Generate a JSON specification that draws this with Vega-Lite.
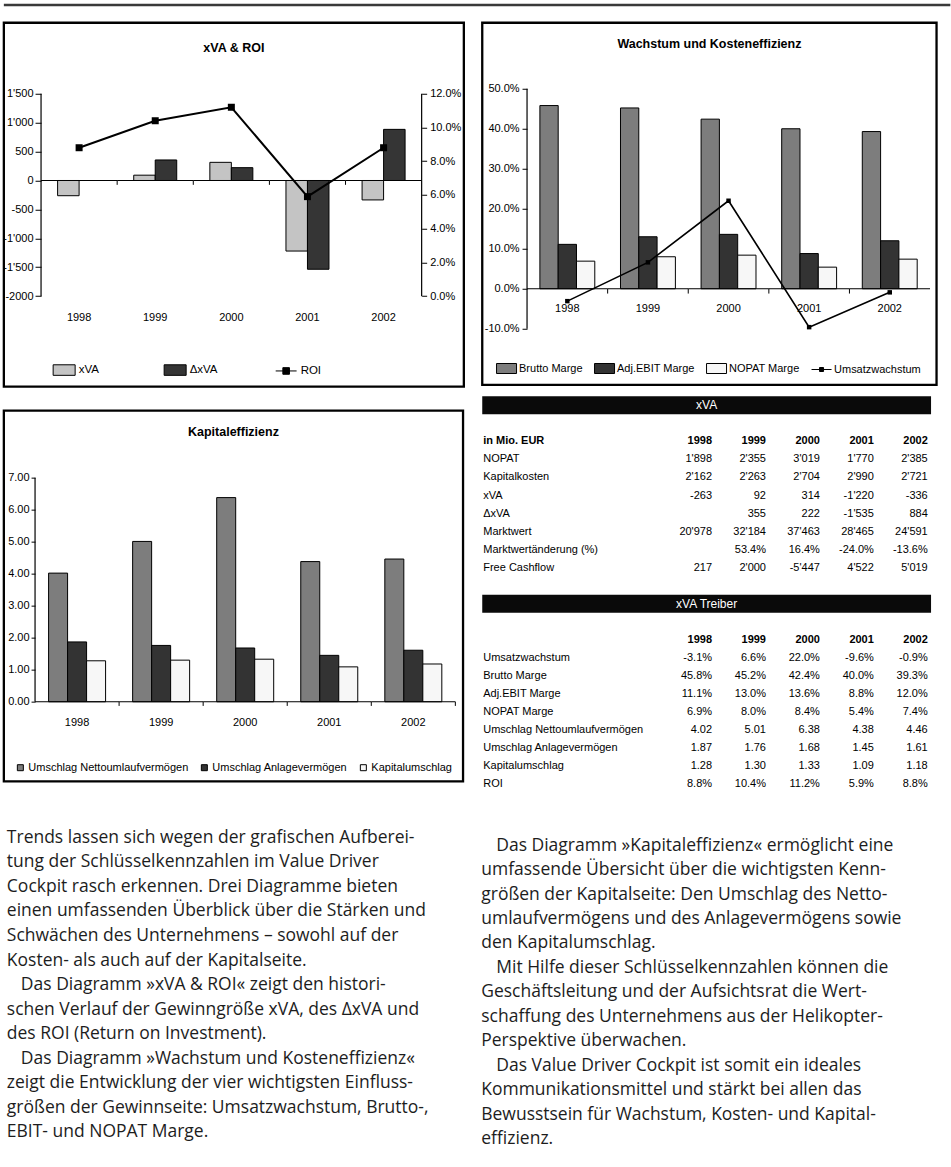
{
  "$schema": "https://vega.github.io/schema/vega-lite/v6.json",
  "background": "white",
  "padding": {"left": 0.85, "top": 3, "right": 0, "bottom": 0},
  "autosize": {"type": "pad"},
  "spacing": 13.75,
  "resolve": {"scale": {"color": "independent", "shape": "independent", "xOffset": "independent"}, "legend": {"color": "independent", "shape": "independent"}},
  "config": {
    "font": "Liberation Sans",
    "view": {"stroke": null},
    "axis": {"labelFont": "Liberation Sans", "labelFontSize": 11, "labelColor": "black", "tickColor": "black", "tickWidth": 1, "grid": false, "labelFlush": false, "labelOverlap": false, "domainColor": "black"},
    "title": {"font": "Liberation Sans", "fontSize": 12.5, "fontWeight": "bold", "color": "black"},
    "legend": {"labelFont": "Liberation Sans", "labelColor": "black", "labelLimit": 400},
    "text": {"font": "Liberation Sans", "fontSize": 11, "color": "black"},
    "locale": {"number": {"decimal": ".", "thousands": "'", "grouping": [3], "currency": ["", ""], "minus": "-"}}
  },
  "datasets": {
    "c1bars": [
      {"year": "1998", "series": "xVA", "value": -263},
      {"year": "1999", "series": "xVA", "value": 92},
      {"year": "2000", "series": "xVA", "value": 314},
      {"year": "2001", "series": "xVA", "value": -1220},
      {"year": "2002", "series": "xVA", "value": -336},
      {"year": "1999", "series": "ΔxVA", "value": 355},
      {"year": "2000", "series": "ΔxVA", "value": 222},
      {"year": "2001", "series": "ΔxVA", "value": -1535},
      {"year": "2002", "series": "ΔxVA", "value": 884}
    ],
    "c1roi": [
      {"year": "1998", "roi": 0.088},
      {"year": "1999", "roi": 0.104},
      {"year": "2000", "roi": 0.112},
      {"year": "2001", "roi": 0.059},
      {"year": "2002", "roi": 0.088}
    ],
    "c1leg": [{"s": "xVA"}, {"s": "ΔxVA"}, {"s": "ROI"}],
    "c2bars": [
      {"year": "1998", "series": "Brutto Marge", "value": 0.458},
      {"year": "1998", "series": "Adj.EBIT Marge", "value": 0.111},
      {"year": "1998", "series": "NOPAT Marge", "value": 0.069},
      {"year": "1999", "series": "Brutto Marge", "value": 0.452},
      {"year": "1999", "series": "Adj.EBIT Marge", "value": 0.130},
      {"year": "1999", "series": "NOPAT Marge", "value": 0.080},
      {"year": "2000", "series": "Brutto Marge", "value": 0.424},
      {"year": "2000", "series": "Adj.EBIT Marge", "value": 0.136},
      {"year": "2000", "series": "NOPAT Marge", "value": 0.084},
      {"year": "2001", "series": "Brutto Marge", "value": 0.400},
      {"year": "2001", "series": "Adj.EBIT Marge", "value": 0.088},
      {"year": "2001", "series": "NOPAT Marge", "value": 0.054},
      {"year": "2002", "series": "Brutto Marge", "value": 0.393},
      {"year": "2002", "series": "Adj.EBIT Marge", "value": 0.120},
      {"year": "2002", "series": "NOPAT Marge", "value": 0.074}
    ],
    "c2line": [
      {"year": "1998", "g": -0.031},
      {"year": "1999", "g": 0.066},
      {"year": "2000", "g": 0.220},
      {"year": "2001", "g": -0.096},
      {"year": "2002", "g": -0.009}
    ],
    "c2leg": [{"s": "Brutto Marge"}, {"s": "Adj.EBIT Marge"}, {"s": "NOPAT Marge"}, {"s": "Umsatzwachstum"}],
    "c3bars": [
      {"year": "1998", "series": "Umschlag Nettoumlaufvermögen", "value": 4.02},
      {"year": "1998", "series": "Umschlag Anlagevermögen", "value": 1.87},
      {"year": "1998", "series": "Kapitalumschlag", "value": 1.28},
      {"year": "1999", "series": "Umschlag Nettoumlaufvermögen", "value": 5.01},
      {"year": "1999", "series": "Umschlag Anlagevermögen", "value": 1.76},
      {"year": "1999", "series": "Kapitalumschlag", "value": 1.30},
      {"year": "2000", "series": "Umschlag Nettoumlaufvermögen", "value": 6.38},
      {"year": "2000", "series": "Umschlag Anlagevermögen", "value": 1.68},
      {"year": "2000", "series": "Kapitalumschlag", "value": 1.33},
      {"year": "2001", "series": "Umschlag Nettoumlaufvermögen", "value": 4.38},
      {"year": "2001", "series": "Umschlag Anlagevermögen", "value": 1.45},
      {"year": "2001", "series": "Kapitalumschlag", "value": 1.09},
      {"year": "2002", "series": "Umschlag Nettoumlaufvermögen", "value": 4.46},
      {"year": "2002", "series": "Umschlag Anlagevermögen", "value": 1.61},
      {"year": "2002", "series": "Kapitalumschlag", "value": 1.18}
    ],
    "hdr": [{"row": -2, "t": "xVA"}, {"row": 9, "t": "xVA Treiber"}],
    "tables": [
      {"row": 0, "label": "in Mio. EUR", "h": true, "1998": "1998", "1999": "1999", "2000": "2000", "2001": "2001", "2002": "2002"},
      {"row": 1, "label": "NOPAT", "h": false, "1998": "1'898", "1999": "2'355", "2000": "3'019", "2001": "1'770", "2002": "2'385"},
      {"row": 2, "label": "Kapitalkosten", "h": false, "1998": "2'162", "1999": "2'263", "2000": "2'704", "2001": "2'990", "2002": "2'721"},
      {"row": 3, "label": "xVA", "h": false, "1998": "-263", "1999": "92", "2000": "314", "2001": "-1'220", "2002": "-336"},
      {"row": 4, "label": "ΔxVA", "h": false, "1999": "355", "2000": "222", "2001": "-1'535", "2002": "884"},
      {"row": 5, "label": "Marktwert", "h": false, "1998": "20'978", "1999": "32'184", "2000": "37'463", "2001": "28'465", "2002": "24'591"},
      {"row": 6, "label": "Marktwertänderung (%)", "h": false, "1999": "53.4%", "2000": "16.4%", "2001": "-24.0%", "2002": "-13.6%"},
      {"row": 7, "label": "Free Cashflow", "h": false, "1998": "217", "1999": "2'000", "2000": "-5'447", "2001": "4'522", "2002": "5'019"},
      {"row": 11, "label": "", "h": true, "1998": "1998", "1999": "1999", "2000": "2000", "2001": "2001", "2002": "2002"},
      {"row": 12, "label": "Umsatzwachstum", "h": false, "1998": "-3.1%", "1999": "6.6%", "2000": "22.0%", "2001": "-9.6%", "2002": "-0.9%"},
      {"row": 13, "label": "Brutto Marge", "h": false, "1998": "45.8%", "1999": "45.2%", "2000": "42.4%", "2001": "40.0%", "2002": "39.3%"},
      {"row": 14, "label": "Adj.EBIT Marge", "h": false, "1998": "11.1%", "1999": "13.0%", "2000": "13.6%", "2001": "8.8%", "2002": "12.0%"},
      {"row": 15, "label": "NOPAT Marge", "h": false, "1998": "6.9%", "1999": "8.0%", "2000": "8.4%", "2001": "5.4%", "2002": "7.4%"},
      {"row": 16, "label": "Umschlag Nettoumlaufvermögen", "h": false, "1998": "4.02", "1999": "5.01", "2000": "6.38", "2001": "4.38", "2002": "4.46"},
      {"row": 17, "label": "Umschlag Anlagevermögen", "h": false, "1998": "1.87", "1999": "1.76", "2000": "1.68", "2001": "1.45", "2002": "1.61"},
      {"row": 18, "label": "Kapitalumschlag", "h": false, "1998": "1.28", "1999": "1.30", "2000": "1.33", "2001": "1.09", "2002": "1.18"},
      {"row": 19, "label": "ROI", "h": false, "1998": "8.8%", "1999": "10.4%", "2000": "11.2%", "2001": "5.9%", "2002": "8.8%"}
    ],
    "txtL": [
      {"line": 0, "p": false, "t": "Trends lassen sich wegen der grafischen Aufberei-"},
      {"line": 1, "p": false, "t": "tung der Schlüsselkennzahlen im Value Driver"},
      {"line": 2, "p": false, "t": "Cockpit rasch erkennen. Drei Diagramme bieten"},
      {"line": 3, "p": false, "t": "einen umfassenden Überblick über die Stärken und"},
      {"line": 4, "p": false, "t": "Schwächen des Unternehmens – sowohl auf der"},
      {"line": 5, "p": false, "t": "Kosten- als auch auf der Kapitalseite."},
      {"line": 6, "p": true, "t": "Das Diagramm »xVA & ROI« zeigt den histori-"},
      {"line": 7, "p": false, "t": "schen Verlauf der Gewinngröße xVA, des ΔxVA und"},
      {"line": 8, "p": false, "t": "des ROI (Return on Investment)."},
      {"line": 9, "p": true, "t": "Das Diagramm »Wachstum und Kosteneffizienz«"},
      {"line": 10, "p": false, "t": "zeigt die Entwicklung der vier wichtigsten Einfluss-"},
      {"line": 11, "p": false, "t": "größen der Gewinnseite: Umsatzwachstum, Brutto-,"},
      {"line": 12, "p": false, "t": "EBIT- und NOPAT Marge."}
    ],
    "txtR": [
      {"line": 0, "p": true, "t": "Das Diagramm »Kapitaleffizienz« ermöglicht eine"},
      {"line": 1, "p": false, "t": "umfassende Übersicht über die wichtigsten Kenn-"},
      {"line": 2, "p": false, "t": "größen der Kapitalseite: Den Umschlag des Netto-"},
      {"line": 3, "p": false, "t": "umlaufvermögens und des Anlagevermögens sowie"},
      {"line": 4, "p": false, "t": "den Kapitalumschlag."},
      {"line": 5, "p": true, "t": "Mit Hilfe dieser Schlüsselkennzahlen können die"},
      {"line": 6, "p": false, "t": "Geschäftsleitung und der Aufsichtsrat die Wert-"},
      {"line": 7, "p": false, "t": "schaffung des Unternehmens aus der Helikopter-"},
      {"line": 8, "p": false, "t": "Perspektive überwachen."},
      {"line": 9, "p": true, "t": "Das Value Driver Cockpit ist somit ein ideales"},
      {"line": 10, "p": false, "t": "Kommunikationsmittel und stärkt bei allen das"},
      {"line": 11, "p": false, "t": "Bewusstsein für Wachstum, Kosten- und Kapital-"},
      {"line": 12, "p": false, "t": "effizienz."}
    ]
  },
  "vconcat": [
    {
      "width": 946.5, "height": 1,
      "data": {"values": [{"k": 0}]},
      "mark": {"type": "rule", "color": "#3a3a3a", "strokeWidth": 2.4},
      "encoding": {"y": {"datum": 1, "type": "quantitative", "scale": {"domain": [0, 1]}, "axis": null}}
    },
    {
      "spacing": 14.4,
      "resolve": {"scale": {"color": "independent", "shape": "independent", "xOffset": "independent"}, "legend": {"color": "independent", "shape": "independent"}},
      "hconcat": [
        {
          "spacing": 19.9,
          "resolve": {"scale": {"color": "independent", "shape": "independent", "xOffset": "independent"}, "legend": {"color": "independent", "shape": "independent"}},
          "vconcat": [
            {
              "width": 460, "height": 363.9,
              "view": {"stroke": "black", "strokeWidth": 2.3},
              "title": {"text": "xVA & ROI", "offset": -42, "baseline": "alphabetic", "frame": "group", "anchor": "middle"},
              "resolve": {"scale": {"y": "independent"}},
              "layer": [
                {
                  "layer": [
                    {
                      "data": {"name": "c1leg"},
                      "mark": {"type": "point", "filled": true, "opacity": 0},
                      "encoding": {
                        "color": {"field": "s", "type": "nominal", "scale": {"domain": ["xVA", "ΔxVA", "ROI"], "range": ["#c4c4c4", "#353535", "#000000"]},
                          "legend": {"orient": "none", "legendX": 48.8, "legendY": 335.7, "direction": "horizontal", "title": null, "gridAlign": "all", "symbolSize": 484, "symbolStrokeColor": "black", "symbolStrokeWidth": 1, "symbolOpacity": 1, "labelFont": "Liberation Sans", "labelFontSize": 11.5, "labelOffset": 3, "columnPadding": 55}},
                        "shape": {"field": "s", "type": "nominal", "scale": {"domain": ["xVA", "ΔxVA", "ROI"], "range": ["M-1,-0.48H1V0.48H-1Z", "M-1,-0.48H1V0.48H-1Z", "M-0.95,0H0.95M-0.3,-0.3H0.3V0.3H-0.3Z"]},
                          "legend": {"orient": "none", "legendX": 48.8, "legendY": 335.7, "direction": "horizontal", "title": null, "gridAlign": "all", "symbolSize": 484, "symbolStrokeColor": "black", "symbolStrokeWidth": 1, "symbolOpacity": 1, "labelFont": "Liberation Sans", "labelFontSize": 11.5, "labelOffset": 3, "columnPadding": 55}}
                      }
                    },
                    {
                      "data": {"name": "c1bars"},
                      "mark": {"type": "bar", "stroke": "black", "strokeWidth": 1},
                      "encoding": {
                        "x": {"field": "year", "type": "nominal", "scale": {"type": "band", "paddingInner": 0, "paddingOuter": 0.5215, "align": 0.4685},
                          "axis": {"orient": "bottom", "offset": -68.9, "ticks": false, "tickSize": 0, "domain": false, "labelPadding": 0, "labelBaseline": "middle", "labelAngle": 0, "title": null}},
                        "xOffset": {"field": "series", "type": "nominal", "scale": {"type": "band", "domain": ["xVA", "ΔxVA"], "paddingInner": 0, "paddingOuter": 0.77}},
                        "y": {"field": "value", "type": "quantitative", "scale": {"domain": [-3564.9, 2727.7], "nice": false, "zero": false},
                          "axis": {"orient": "left", "offset": -37.2, "values": [-2000, -1500, -1000, -500, 0, 500, 1000, 1500], "format": ",d", "labelExpr": "datum.value == -2000 ? '-2000' : datum.label", "tickSize": 6, "labelPadding": 2, "domain": false, "grid": false, "title": null}},
                        "color": {"field": "series", "type": "nominal"}
                      }
                    },
                    {
                      "data": {"name": "c1roi"},
                      "mark": {"type": "rect", "fill": "transparent", "stroke": "black", "strokeWidth": 1.2},
                      "encoding": {
                        "x": {"field": "year", "type": "nominal"},
                        "y": {"datum": 0, "type": "quantitative"},
                        "y2": {"datum": 0}
                      }
                    },
                    {
                      "data": {"name": "c1roi"},
                      "transform": [{"filter": "datum.year == '1998'"}],
                      "mark": {"type": "rule", "color": "black", "strokeWidth": 1.2},
                      "encoding": {
                        "x": {"field": "year", "type": "nominal", "bandPosition": 0},
                        "y": {"datum": 1500, "type": "quantitative"},
                        "y2": {"datum": -2000}
                      }
                    },
                    {
                      "data": {"name": "c1roi"},
                      "transform": [{"filter": "datum.year == '2002'"}],
                      "mark": {"type": "rule", "color": "black", "strokeWidth": 1.2},
                      "encoding": {
                        "x": {"field": "year", "type": "nominal", "bandPosition": 1},
                        "y": {"datum": 1500, "type": "quantitative"},
                        "y2": {"datum": -2000}
                      }
                    },
                    {
                      "data": {"name": "c1roi"},
                      "transform": [{"filter": "datum.year != '1998'"}],
                      "mark": {"type": "rule", "color": "black", "strokeWidth": 1},
                      "encoding": {
                        "x": {"field": "year", "type": "nominal", "bandPosition": 0},
                        "y": {"datum": 0, "type": "quantitative"},
                        "y2": {"datum": -75}
                      }
                    }
                  ]
                },
                {
                  "layer": [
                    {
                      "data": {"name": "c1roi"},
                      "mark": {"type": "line", "color": "black", "strokeWidth": 2},
                      "encoding": {
                        "x": {"field": "year", "type": "nominal"},
                        "y": {"field": "roi", "type": "quantitative", "scale": {"domain": [-0.05366, 0.1621], "nice": false, "zero": false},
                          "axis": {"orient": "right", "offset": -42.2, "values": [0, 0.02, 0.04, 0.06, 0.08, 0.1, 0.12], "format": ".1%", "tickSize": 5, "labelPadding": 3, "domain": false, "grid": false, "title": null}}
                      }
                    },
                    {
                      "data": {"name": "c1roi"},
                      "mark": {"type": "point", "shape": "square", "filled": true, "color": "black", "size": 49, "opacity": 1},
                      "encoding": {
                        "x": {"field": "year", "type": "nominal"},
                        "y": {"field": "roi", "type": "quantitative"}
                      }
                    }
                  ]
                }
              ]
            },
            {
              "width": 459.2, "height": 370.8,
              "view": {"stroke": "black", "strokeWidth": 2.3},
              "title": {"text": "Kapitaleffizienz", "offset": -38, "baseline": "alphabetic", "frame": "group", "anchor": "middle"},
              "layer": [
                {
                  "data": {"name": "c3bars"},
                  "mark": {"type": "bar", "stroke": "black", "strokeWidth": 1},
                  "encoding": {
                    "x": {"field": "year", "type": "nominal", "scale": {"type": "band", "paddingInner": 0, "paddingOuter": 0.2314, "align": 0.802},
                      "axis": {"orient": "bottom", "offset": -58.5, "ticks": false, "tickSize": 0, "domain": false, "labelPadding": 0, "labelBaseline": "middle", "labelAngle": 0, "title": null}},
                    "xOffset": {"field": "series", "type": "nominal", "scale": {"type": "band", "domain": ["Umschlag Nettoumlaufvermögen", "Umschlag Anlagevermögen", "Kapitalumschlag"], "paddingInner": 0, "paddingOuter": 0.712}},
                    "y": {"field": "value", "type": "quantitative", "scale": {"domain": [-2.4906, 9.097], "nice": false, "zero": false},
                      "axis": {"orient": "left", "offset": -31.2, "values": [0, 1, 2, 3, 4, 5, 6, 7], "format": ".2f", "tickSize": 4, "labelPadding": 2, "domain": false, "grid": false, "title": null}},
                    "color": {"field": "series", "type": "nominal",
                      "scale": {"domain": ["Umschlag Nettoumlaufvermögen", "Umschlag Anlagevermögen", "Kapitalumschlag"], "range": ["#7d7d7d", "#333333", "#f7f7f7"]},
                      "legend": {"orient": "none", "legendX": 11, "legendY": 351.3, "direction": "horizontal", "title": null, "symbolType": "square", "symbolSize": 36, "symbolStrokeColor": "black", "symbolStrokeWidth": 1, "symbolOpacity": 1, "labelFont": "Liberation Sans", "labelFontSize": 11, "labelOffset": 2.5, "columnPadding": 10}}
                  }
                },
                {
                  "data": {"name": "c1roi"},
                  "mark": {"type": "rect", "fill": "transparent", "stroke": "black", "strokeWidth": 1.2},
                  "encoding": {
                    "x": {"field": "year", "type": "nominal"},
                    "y": {"datum": 0, "type": "quantitative"},
                    "y2": {"datum": 0}
                  }
                },
                {
                  "data": {"name": "c1roi"},
                  "transform": [{"filter": "datum.year == '1998'"}],
                  "mark": {"type": "rule", "color": "black", "strokeWidth": 1.2},
                  "encoding": {
                    "x": {"field": "year", "type": "nominal", "bandPosition": 0},
                    "y": {"datum": 7, "type": "quantitative"},
                    "y2": {"datum": 0}
                  }
                },
                {
                  "data": {"name": "c1roi"},
                  "transform": [{"filter": "datum.year != '1998'"}],
                  "mark": {"type": "rule", "color": "black", "strokeWidth": 1},
                  "encoding": {
                    "x": {"field": "year", "type": "nominal", "bandPosition": 0},
                    "y": {"datum": 0, "type": "quantitative"},
                    "y2": {"datum": -0.13}
                  }
                },
                {
                  "data": {"name": "c1roi"},
                  "transform": [{"filter": "datum.year == '2002'"}],
                  "mark": {"type": "rule", "color": "black", "strokeWidth": 1},
                  "encoding": {
                    "x": {"field": "year", "type": "nominal", "bandPosition": 1},
                    "y": {"datum": 0, "type": "quantitative"},
                    "y2": {"datum": -0.13}
                  }
                }
              ]
            },
            {
              "width": 460, "height": 350,
              "data": {"name": "txtL"},
              "encoding": {
                "x": {"datum": 0, "type": "quantitative", "scale": {"domain": [0, 1]}, "axis": null},
                "y": {"field": "line", "type": "quantitative", "scale": {"domain": [-1.6395, 12.6175], "reverse": true, "nice": false, "zero": false}, "axis": null},
                "text": {"field": "t"}
              },
              "layer": [
                {"transform": [{"filter": "!datum.p"}], "mark": {"type": "text", "align": "left", "baseline": "alphabetic", "font": "Open Sans", "fontSize": 17.5, "color": "#1d1d1d", "dx": 3}},
                {"transform": [{"filter": "datum.p"}], "mark": {"type": "text", "align": "left", "baseline": "alphabetic", "font": "Open Sans", "fontSize": 17.5, "color": "#1d1d1d", "dx": 17}}
              ]
            }
          ]
        },
        {
          "spacing": 8.35,
          "resolve": {"scale": {"color": "independent", "shape": "independent", "xOffset": "independent"}, "legend": {"color": "independent", "shape": "independent"}},
          "vconcat": [
            {
              "width": 454.3, "height": 362.2,
              "view": {"stroke": "black", "strokeWidth": 2.3},
              "title": {"text": "Wachstum und Kosteneffizienz", "offset": -38, "baseline": "alphabetic", "frame": "group", "anchor": "middle"},
              "layer": [
                {
                  "data": {"name": "c2leg"},
                  "mark": {"type": "point", "filled": true, "opacity": 0},
                  "encoding": {
                    "color": {"field": "s", "type": "nominal", "scale": {"domain": ["Brutto Marge", "Adj.EBIT Marge", "NOPAT Marge", "Umsatzwachstum"], "range": ["#7d7d7d", "#333333", "#f7f7f7", "#000000"]},
                      "legend": {"orient": "none", "legendX": 13.8, "legendY": 335, "direction": "horizontal", "title": null, "symbolSize": 400, "symbolStrokeColor": "black", "symbolStrokeWidth": 1, "symbolOpacity": 1, "labelFont": "Liberation Sans", "labelFontSize": 11, "labelOffset": 2, "columnPadding": 9}},
                    "shape": {"field": "s", "type": "nominal", "scale": {"domain": ["Brutto Marge", "Adj.EBIT Marge", "NOPAT Marge", "Umsatzwachstum"], "range": ["M-1,-0.5H1V0.5H-1Z", "M-1,-0.5H1V0.5H-1Z", "M-1,-0.5H1V0.5H-1Z", "M-1,0H1M-0.2,-0.2H0.2V0.2H-0.2Z"]},
                      "legend": {"orient": "none", "legendX": 13.8, "legendY": 335, "direction": "horizontal", "title": null, "symbolSize": 400, "symbolStrokeColor": "black", "symbolStrokeWidth": 1, "symbolOpacity": 1, "labelFont": "Liberation Sans", "labelFontSize": 11, "labelOffset": 2, "columnPadding": 9}}
                  }
                },
                {
                  "data": {"name": "c2bars"},
                  "mark": {"type": "bar", "stroke": "black", "strokeWidth": 1},
                  "encoding": {
                    "x": {"field": "year", "type": "nominal", "scale": {"type": "band", "paddingInner": 0, "paddingOuter": 0.3182, "align": 0.8733},
                      "axis": {"orient": "bottom", "offset": -76.2, "ticks": false, "tickSize": 0, "domain": false, "labelPadding": 0, "labelBaseline": "middle", "labelAngle": 0, "title": null}},
                    "xOffset": {"field": "series", "type": "nominal", "scale": {"type": "band", "domain": ["Brutto Marge", "Adj.EBIT Marge", "NOPAT Marge"], "paddingInner": 0, "paddingOuter": 0.702}},
                    "y": {"field": "value", "type": "quantitative", "scale": {"domain": [-0.2405, 0.665], "nice": false, "zero": false},
                      "axis": {"orient": "left", "offset": -44.8, "values": [-0.1, 0, 0.1, 0.2, 0.3, 0.4, 0.5], "format": ".1%", "tickSize": 5, "labelPadding": 3, "domain": false, "grid": false, "title": null}},
                    "color": {"field": "series", "type": "nominal"}
                  }
                },
                {
                  "data": {"name": "c2line"},
                  "mark": {"type": "rect", "fill": "transparent", "stroke": "black", "strokeWidth": 1.2},
                  "encoding": {
                    "x": {"field": "year", "type": "nominal"},
                    "y": {"datum": 0, "type": "quantitative"},
                    "y2": {"datum": 0}
                  }
                },
                {
                  "data": {"name": "c2line"},
                  "transform": [{"filter": "datum.year == '1998'"}],
                  "mark": {"type": "rule", "color": "black", "strokeWidth": 1.2},
                  "encoding": {
                    "x": {"field": "year", "type": "nominal", "bandPosition": 0},
                    "y": {"datum": 0.5, "type": "quantitative"},
                    "y2": {"datum": -0.1}
                  }
                },
                {
                  "data": {"name": "c2line"},
                  "transform": [{"filter": "datum.year != '1998'"}],
                  "mark": {"type": "rule", "color": "black", "strokeWidth": 1},
                  "encoding": {
                    "x": {"field": "year", "type": "nominal", "bandPosition": 0},
                    "y": {"datum": 0, "type": "quantitative"},
                    "y2": {"datum": -0.012}
                  }
                },
                {
                  "data": {"name": "c2line"},
                  "mark": {"type": "line", "color": "black", "strokeWidth": 1.6},
                  "encoding": {
                    "x": {"field": "year", "type": "nominal"},
                    "y": {"field": "g", "type": "quantitative"}
                  }
                },
                {
                  "data": {"name": "c2line"},
                  "mark": {"type": "point", "shape": "square", "filled": true, "color": "black", "size": 20, "opacity": 1},
                  "encoding": {
                    "x": {"field": "year", "type": "nominal"},
                    "y": {"field": "g", "type": "quantitative"}
                  }
                }
              ]
            },
            {
              "width": 448.8, "height": 400,
              "resolve": {"scale": {"x": "independent"}},
              "layer": [
                {
                  "data": {"name": "hdr"},
                  "mark": {"type": "rect", "color": "#0a0a0a"},
                  "encoding": {
                    "y": {"field": "row", "type": "ordinal", "scale": {"domain": [-2, -1, 0, 1, 2, 3, 4, 5, 6, 7, 8, 9, 10, 11, 12, 13, 14, 15, 16, 17, 18, 19], "paddingInner": 0, "paddingOuter": 0.0865, "align": 0.378}, "axis": null}
                  }
                },
                {
                  "data": {"name": "hdr"},
                  "mark": {"type": "text", "color": "white", "fontSize": 12, "baseline": "middle"},
                  "encoding": {
                    "y": {"field": "row", "type": "ordinal", "axis": null},
                    "text": {"field": "t"}
                  }
                },
                {
                  "data": {"name": "tables"},
                  "transform": [{"filter": "datum.label != '' && datum.h"}],
                  "mark": {"type": "text", "align": "left", "baseline": "middle", "fontWeight": "bold", "dx": 1},
                  "encoding": {
                    "x": {"datum": 0, "type": "quantitative", "scale": {"domain": [0, 1]}, "axis": null},
                    "y": {"field": "row", "type": "ordinal", "axis": null},
                    "text": {"field": "label"}
                  }
                },
                {
                  "data": {"name": "tables"},
                  "transform": [{"filter": "datum.label != '' && !datum.h"}],
                  "mark": {"type": "text", "align": "left", "baseline": "middle", "dx": 1},
                  "encoding": {
                    "x": {"datum": 0, "type": "quantitative", "scale": {"domain": [0, 1]}, "axis": null},
                    "y": {"field": "row", "type": "ordinal", "axis": null},
                    "text": {"field": "label"}
                  }
                },
                {
                  "data": {"name": "tables"},
                  "transform": [
                    {"fold": ["1998", "1999", "2000", "2001", "2002"], "as": ["year", "val"]},
                    {"filter": "isValid(datum.val) && datum.val != '' && datum.h"}
                  ],
                  "mark": {"type": "text", "align": "right", "baseline": "middle", "fontWeight": "bold"},
                  "encoding": {
                    "x": {"field": "year", "type": "quantitative", "scale": {"domain": [1993.7385, 2002.0612], "nice": false, "zero": false}, "axis": null},
                    "y": {"field": "row", "type": "ordinal", "axis": null},
                    "text": {"field": "val"}
                  }
                },
                {
                  "data": {"name": "tables"},
                  "transform": [
                    {"fold": ["1998", "1999", "2000", "2001", "2002"], "as": ["year", "val"]},
                    {"filter": "isValid(datum.val) && datum.val != '' && !datum.h"}
                  ],
                  "mark": {"type": "text", "align": "right", "baseline": "middle"},
                  "encoding": {
                    "x": {"field": "year", "type": "quantitative", "scale": {"domain": [1993.7385, 2002.0612], "nice": false, "zero": false}, "axis": null},
                    "y": {"field": "row", "type": "ordinal", "axis": null},
                    "text": {"field": "val"}
                  }
                }
              ]
            },
            {
              "width": 465, "height": 350,
              "data": {"name": "txtR"},
              "encoding": {
                "x": {"datum": 0, "type": "quantitative", "scale": {"domain": [0, 1]}, "axis": null},
                "y": {"field": "line", "type": "quantitative", "scale": {"domain": [-1.9325, 12.3825], "reverse": true, "nice": false, "zero": false}, "axis": null},
                "text": {"field": "t"}
              },
              "layer": [
                {"transform": [{"filter": "!datum.p"}], "mark": {"type": "text", "align": "left", "baseline": "alphabetic", "font": "Open Sans", "fontSize": 17.5, "color": "#1d1d1d", "dx": -1}},
                {"transform": [{"filter": "datum.p"}], "mark": {"type": "text", "align": "left", "baseline": "alphabetic", "font": "Open Sans", "fontSize": 17.5, "color": "#1d1d1d", "dx": 14}}
              ]
            }
          ]
        }
      ]
    }
  ]
}
